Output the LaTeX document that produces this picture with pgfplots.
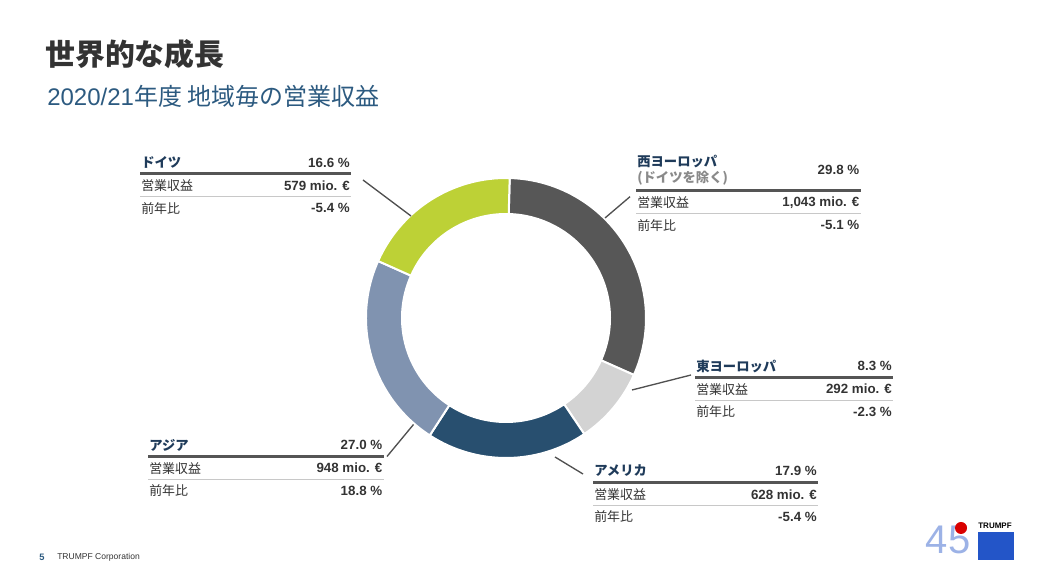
\documentclass[border=0pt]{standalone}
\usepackage{pgfplots}
\pgfplotsset{compat=1.18}
\usepackage{pgfplotstable}
\usepackage{fontspec}
\setmainfont{Liberation Sans}
\newfontfamily\cjk{Noto Sans CJK JP}
\definecolor{cWE}{HTML}{575757}
\definecolor{cEE}{HTML}{D3D3D3}
\definecolor{cAM}{HTML}{284F6F}
\definecolor{cAS}{HTML}{8093B0}
\definecolor{cDE}{HTML}{BDD136}
\definecolor{navy}{HTML}{1F3B5A}
\definecolor{txt}{HTML}{333333}
\definecolor{subc}{HTML}{2C5A80}
\definecolor{rulec}{HTML}{555555}
\definecolor{thinc}{HTML}{C8C8C8}
\definecolor{leadc}{HTML}{505050}
\definecolor{tblue}{HTML}{2355C8}
\definecolor{greyc}{HTML}{8A8A8A}

% shares of the ring as drawn (percent of full circle), clockwise from the top
\pgfplotstableread{
region share color
WestEurope 31.25 cWE
EastEurope 8.89 cEE
America 18.61 cAM
Asia 22.50 cAS
Germany 18.75 cDE
}\segs

\tikzset{
  lbl/.style={anchor=west, inner sep=0pt, text=txt, font={\cjk\fontsize{9.7}{11}\selectfont}},
  val/.style={anchor=east, inner sep=0pt, text=txt, font={\bfseries\fontsize{10}{12}\selectfont}},
  hd/.style={anchor=west, inner sep=0pt, text=navy, font={\cjk\bfseries\fontsize{10}{12}\selectfont}},
}

% rows of a block: xl, xr, y of thick rule, revenue, yoy
\newcommand\rows[5]{%
  \draw[rulec, line width=2.25pt] (axis cs:#1-1,#3) -- (axis cs:#2+1,#3);
  \node[lbl] at (axis cs:#1,{#3-11.8}) {営業収益};
  \node[val] at (axis cs:#2,{#3-11.8}) {#4};
  \draw[thinc, line width=0.75pt] (axis cs:#1-1,{#3-22.8}) -- (axis cs:#2+1,{#3-22.8});
  \node[lbl] at (axis cs:#1,{#3-34.3}) {前年比};
  \node[val] at (axis cs:#2,{#3-34.3}) {#5};
}

\begin{document}
\begin{tikzpicture}
\begin{axis}[scale only axis, width=779.25pt, height=438pt,
  xmin=0, xmax=1039, ymin=0, ymax=584, hide axis, clip=false]
\path (axis cs:0,0) rectangle (axis cs:1039,584);

% donut
\def\cx{506}\def\cy{266}
\pgfmathsetmacro\ang{88.5}
\pgfplotsforeachungrouped \i in {0,...,4}{%
  \pgfplotstablegetelem{\i}{share}\of\segs
  \pgfmathsetmacro\angb{\ang-3.6*\pgfplotsretval}%
  \pgfplotstablegetelem{\i}{color}\of\segs
  \let\segcol\pgfplotsretval
  \pgfmathsetmacro\xa{\cx+140*cos(\ang)}%
  \pgfmathsetmacro\ya{\cy+140*sin(\ang)}%
  \pgfmathsetmacro\xb{\cx+104*cos(\angb)}%
  \pgfmathsetmacro\yb{\cy+104*sin(\angb)}%
  \edef\seg{\noexpand\filldraw[fill=\segcol,draw=white,line width=1.5pt]
    (axis cs:\xa,\ya) arc[start angle=\ang,end angle=\angb,radius=105pt]
    -- (axis cs:\xb,\yb) arc[start angle=\angb,end angle=\ang,radius=78pt] -- cycle;}%
  \seg
  \global\let\ang\angb
}

% leader lines
\addplot[leadc, line width=1pt, no marks] coordinates {(363,404) (411,368)};
\addplot[leadc, line width=1pt, no marks] coordinates {(605,366) (630,387.3)};
\addplot[leadc, line width=1pt, no marks] coordinates {(632,194) (691,209)};
\addplot[leadc, line width=1pt, no marks] coordinates {(413.5,159.5) (387,127.5)};
\addplot[leadc, line width=1pt, no marks] coordinates {(555,127) (583,110)};

% titles
\node[anchor=west, inner sep=0pt, text=txt, font={\cjk\bfseries\fontsize{22.4}{26}\selectfont}] at (axis cs:45,530) {世界的な成長};
\node[anchor=west, inner sep=0pt, text=subc, font={\fontsize{18}{20}\selectfont}] at (axis cs:47,488) {2020/21{\cjk 年度 地域毎の営業収益}};

% Germany
\node[hd] at (axis cs:141,421.5) {ドイツ};
\node[val] at (axis cs:350,421.5) {16.6 \%};
\rows{141}{350}{410}{579 mio. €}{-5.4 \%}

% Western Europe
\node[hd] at (axis cs:637,422.3) {西ヨーロッパ};
\node[hd, text=greyc] at (axis cs:637,406.3) {(ドイツを除く)};
\node[val] at (axis cs:859.5,414) {29.8 \%};
\rows{637}{859.5}{393}{1,043 mio. €}{-5.1 \%}

% Eastern Europe
\node[hd] at (axis cs:696,218) {東ヨーロッパ};
\node[val] at (axis cs:892,218) {8.3 \%};
\rows{696}{892}{206.7}{292 mio. €}{-2.3 \%}

% Asia
\node[hd] at (axis cs:149,139) {アジア};
\node[val] at (axis cs:382.5,139) {27.0 \%};
\rows{149}{382.5}{127.7}{948 mio. €}{18.8 \%}

% America
\node[hd] at (axis cs:594,113) {アメリカ};
\node[val] at (axis cs:817,113) {17.9 \%};
\rows{594}{817}{101.3}{628 mio. €}{-5.4 \%}

% footer
\node[anchor=west, inner sep=0pt, text=subc, font={\bfseries\fontsize{7}{8}\selectfont}] at (axis cs:39,27) {5};
\node[anchor=west, inner sep=0pt, text=txt, font={\fontsize{6.4}{8}\selectfont}] at (axis cs:57,27) {TRUMPF Corporation};

% logo
\fill[tblue] (axis cs:978,24) rectangle (axis cs:1014,52);
\node[inner sep=0pt, text=black, font={\bfseries\fontsize{6}{7}\selectfont}] at (axis cs:995,58) {TRUMPF};
\node[inner sep=0pt, text=tblue!45!white, font={\fontsize{30}{32}\selectfont}] at (axis cs:948,44.5) {45};
\fill[red!85!black] (axis cs:961,56) circle[radius=4.5pt];
\end{axis}
\end{tikzpicture}
\end{document}
